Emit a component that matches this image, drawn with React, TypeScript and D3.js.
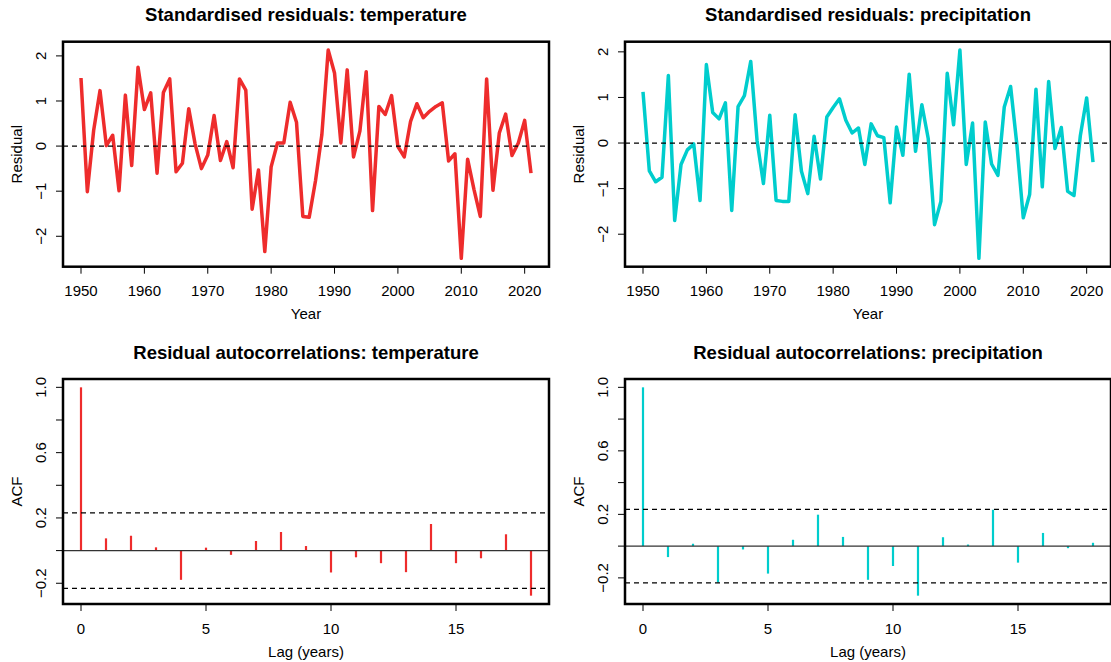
import React, { useRef, useEffect } from 'react';
import * as d3 from 'd3';

// yearly standardised residuals, 1950-2021
const years = d3.range(1950, 2022);
const tempResid = [
  1.51, -1.01, 0.35, 1.23, 0.01, 0.24, -0.99, 1.13, -0.43, 1.75,
  0.81, 1.18, -0.6, 1.19, 1.49, -0.57, -0.38, 0.83, 0.05, -0.5,
  -0.2, 0.68, -0.32, 0.1, -0.48, 1.49, 1.24, -1.4, -0.53, -2.34,
  -0.46, 0.07, 0.07, 0.97, 0.53, -1.56, -1.58, -0.77, 0.25, 2.13,
  1.62, 0.07, 1.69, -0.24, 0.33, 1.65, -1.43, 0.88, 0.7, 1.12,
  -0.01, -0.24, 0.55, 0.94, 0.63, 0.77, 0.88, 0.96, -0.33, -0.17,
  -2.49, -0.29, -0.96, -1.56, 1.49, -0.98, 0.29, 0.71, -0.21, 0.07,
  0.57, -0.6,
];
const precipResid = [
  1.12, -0.61, -0.85, -0.75, 1.48, -1.7, -0.47, -0.15, -0.02, -1.26,
  1.72, 0.67, 0.53, 0.88, -1.48, 0.8, 1.04, 1.79, 0.05, -0.89,
  0.61, -1.26, -1.28, -1.28, 0.62, -0.62, -1.11, 0.15, -0.79, 0.57,
  0.78, 0.97, 0.5, 0.22, 0.33, -0.47, 0.42, 0.16, 0.12, -1.31,
  0.35, -0.27, 1.51, -0.18, 0.84, 0.1, -1.79, -1.28, 1.53, 0.4,
  2.04, -0.47, 0.44, -2.53, 0.46, -0.46, -0.71, 0.79, 1.24, -0.05,
  -1.64, -1.13, 1.18, -0.96, 1.35, -0.12, 0.34, -1.06, -1.15, 0.16,
  0.99, -0.42,
];

// autocorrelations, lags 0-18
const lags = d3.range(0, 19);
const tempAcf = [
  1.0, 0.075, 0.091, 0.02, -0.179, 0.018, -0.026, 0.059, 0.114, 0.028,
  -0.134, -0.041, -0.077, -0.132, 0.163, -0.077, -0.047, 0.1, -0.276,
];
const precipAcf = [
  1.0, -0.069, 0.015, -0.229, -0.021, -0.173, 0.04, 0.198, 0.058, -0.212,
  -0.125, -0.312, 0.056, 0.01, 0.229, -0.104, 0.083, -0.013, 0.021,
];
const confLimit = 0.231;

const yearTicks = [1950, 1960, 1970, 1980, 1990, 2000, 2010, 2020];
const residTicks = [-2, -1, 0, 1, 2];
const lagTicks = [0, 5, 10, 15];
const acfTicks = [-0.2, 0, 0.2, 0.4, 0.6, 0.8, 1.0];
const acfLabels = [-0.2, 0.2, 0.6, 1.0];

const RED = '#EE2C2C';
const CYAN = '#00CDCD';
const FONT = '"Liberation Sans", Arial, Helvetica, sans-serif';
const FS = 15;
const TITLE_FS = 18.5;

// R pads the data range by 4% on each side
const pad = (lo: number, hi: number) => {
  const d = (hi - lo) * 0.04;
  return [lo - d, hi + d];
};

const drawFrame = (svg: any, o: any) => {
  const x = d3.scaleLinear().domain(o.xDomain).range([o.left, o.left + o.width]);
  const y = d3.scaleLinear().domain(o.yDomain).range([o.top + o.height, o.top]);
  const bottom = o.top + o.height;
  const g = svg.append('g');

  g.selectAll('.xt')
    .data(o.xTicks)
    .enter()
    .append('line')
    .attr('x1', (d: number) => x(d))
    .attr('x2', (d: number) => x(d))
    .attr('y1', bottom)
    .attr('y2', bottom + 7)
    .attr('stroke', '#000');
  g.selectAll('.xl')
    .data(o.xTicks)
    .enter()
    .append('text')
    .attr('x', (d: number) => x(d))
    .attr('y', bottom + 29.5)
    .attr('text-anchor', 'middle')
    .attr('font-size', FS)
    .text((d: number) => o.xFmt(d));

  g.selectAll('.yt')
    .data(o.yTicks)
    .enter()
    .append('line')
    .attr('x1', o.left)
    .attr('x2', o.left - 7)
    .attr('y1', (d: number) => y(d))
    .attr('y2', (d: number) => y(d))
    .attr('stroke', '#000');
  g.selectAll('.yl')
    .data(o.yLabels)
    .enter()
    .append('text')
    .attr('transform', (d: number) => `translate(${o.left - 17},${y(d)}) rotate(-90)`)
    .attr('text-anchor', 'middle')
    .attr('font-size', FS)
    .text((d: number) => o.yFmt(d));

  g.append('text')
    .attr('x', o.left + o.width / 2)
    .attr('y', bottom + 52.5)
    .attr('text-anchor', 'middle')
    .attr('font-size', FS)
    .text(o.xlab);
  g.append('text')
    .attr('transform', `translate(${o.left - 41},${o.top + o.height / 2}) rotate(-90)`)
    .attr('text-anchor', 'middle')
    .attr('font-size', FS)
    .text(o.ylab);
  g.append('text')
    .attr('x', o.left + o.width / 2)
    .attr('y', o.top - 20.5)
    .attr('text-anchor', 'middle')
    .attr('font-size', TITLE_FS)
    .attr('font-weight', 'bold')
    .text(o.title);

  return { x, y, g };
};

const hline = (g: any, x: any, yv: number, dashed: boolean, color = '#000', w = 1.2) => {
  const [a, b] = x.range();
  g.append('line')
    .attr('x1', a)
    .attr('x2', b)
    .attr('y1', yv)
    .attr('y2', yv)
    .attr('stroke', color)
    .attr('stroke-width', w)
    .attr('stroke-dasharray', dashed ? '5,4' : null);
};

const box = (g: any, o: any) => {
  g.append('rect')
    .attr('x', o.left)
    .attr('y', o.top)
    .attr('width', o.width)
    .attr('height', o.height)
    .attr('fill', 'none')
    .attr('stroke', '#000')
    .attr('stroke-width', 2.5);
};

const App = () => {
  const ref = useRef<SVGSVGElement>(null);

  useEffect(() => {
    const svg = d3.select(ref.current);
    svg.selectAll('*').remove();
    svg.style('font-family', FONT);

    const cols = [63, 625];
    const rows = [41.7, 379];
    const w = 486;
    const h = 225;

    // residual time series
    [
      { vals: tempResid, color: RED, title: 'Standardised residuals: temperature' },
      { vals: precipResid, color: CYAN, title: 'Standardised residuals: precipitation' },
    ].forEach((s, i) => {
      const ext = d3.extent(s.vals) as [number, number];
      const o = {
        left: cols[i], top: rows[0], width: w, height: h,
        title: s.title, xlab: 'Year', ylab: 'Residual',
        xDomain: pad(years[0], years[years.length - 1]),
        yDomain: pad(ext[0], ext[1]),
        xTicks: yearTicks, yTicks: residTicks, yLabels: residTicks,
        xFmt: d3.format('d'), yFmt: d3.format('d'),
      };
      const { x, y, g } = drawFrame(svg, o);
      const line = d3
        .line<number>()
        .x((_, k) => x(years[k]))
        .y((d) => y(d));
      g.append('path')
        .datum(s.vals)
        .attr('fill', 'none')
        .attr('stroke', s.color)
        .attr('stroke-width', 3.5)
        .attr('stroke-linejoin', 'round')
        .attr('d', line);
      hline(g, x, y(0), true);
      box(g, o);
    });

    // autocorrelation plots
    [
      { vals: tempAcf, color: RED, title: 'Residual autocorrelations: temperature' },
      { vals: precipAcf, color: CYAN, title: 'Residual autocorrelations: precipitation' },
    ].forEach((s, i) => {
      const lo = Math.min(d3.min(s.vals) as number, -confLimit);
      const hi = Math.max(d3.max(s.vals) as number, confLimit);
      const o = {
        left: cols[i], top: rows[1], width: w, height: h,
        title: s.title, xlab: 'Lag (years)', ylab: 'ACF',
        xDomain: pad(lags[0], lags[lags.length - 1]),
        yDomain: pad(lo, hi),
        xTicks: lagTicks, yTicks: acfTicks, yLabels: acfLabels,
        xFmt: d3.format('d'), yFmt: d3.format('.1f'),
      };
      const { x, y, g } = drawFrame(svg, o);
      g.selectAll('.bar')
        .data(s.vals)
        .enter()
        .append('line')
        .attr('x1', (_: number, k: number) => x(lags[k]))
        .attr('x2', (_: number, k: number) => x(lags[k]))
        .attr('y1', y(0))
        .attr('y2', (d: number) => y(d))
        .attr('stroke', s.color)
        .attr('stroke-width', 2.2);
      hline(g, x, y(0), false, '#333', 1.3);
      hline(g, x, y(confLimit), true);
      hline(g, x, y(-confLimit), true);
      box(g, o);
    });
  }, []);

  return (
    <svg
      ref={ref}
      width={1111}
      height={662}
      style={{ position: 'absolute', left: 0, top: 0, background: '#fff' }}
    />
  );
};

export default App;
